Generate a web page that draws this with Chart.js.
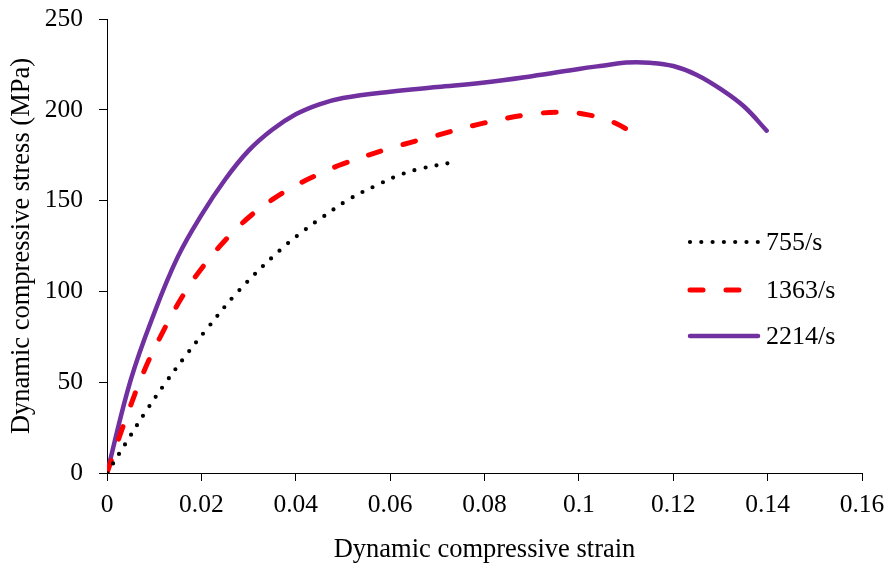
<!DOCTYPE html>
<html>
<head>
<meta charset="utf-8">
<title>Dynamic compressive stress-strain</title>
<script src="https://cdn.jsdelivr.net/npm/chart.js@4.4.1/dist/chart.umd.min.js"></script>
<style>
  html, body { margin: 0; padding: 0; background: #fff; }
  #wrap { width: 892px; height: 568px; }
</style>
</head>
<body>
<div id="wrap"><canvas id="ssChart" width="892" height="568"></canvas></div>
<script>
// 数据
const seriesNames = ['755/s', '1363/s', '2214/s'];

const strain755 = [0, 0.004, 0.008, 0.0125, 0.0167, 0.021, 0.0278, 0.0367, 0.042, 0.0458, 0.0514, 0.0576, 0.0619, 0.0663, 0.0731];
const stress755 = [0, 16.5, 33, 50, 64.7, 78.8, 100, 122.8, 134, 141.1, 150.9, 159, 164, 167.5, 171];

const strain1363 = [0, 0.004, 0.008, 0.012, 0.016, 0.02, 0.025, 0.03, 0.035, 0.04, 0.045, 0.05, 0.06, 0.07, 0.08, 0.09, 0.097, 0.102, 0.107, 0.114];
const stress1363 = [0, 30, 57, 78.5, 97.3, 112.5, 128, 140.7, 150.5, 158.3, 164.7, 170.2, 178.8, 186, 192.8, 197.6, 198.6, 197.2, 193.5, 183.4];

const strain2214 = [0, 0.005, 0.01, 0.015, 0.02, 0.025, 0.03, 0.035, 0.04, 0.045, 0.05, 0.06, 0.07, 0.08, 0.09, 0.1, 0.105, 0.11, 0.115, 0.12, 0.125, 0.13, 0.135, 0.1398];
const stress2214 = [0, 51, 88, 119, 142, 161.5, 177.5, 189, 197.5, 203, 206.5, 210, 212.5, 215, 218.5, 222.5, 224.3, 226, 225.9, 224.1, 219.2, 211.5, 201.8, 188.5];

const xTicks = [0, 0.02, 0.04, 0.06, 0.08, 0.1, 0.12, 0.14, 0.16];
const yTicks = [0, 50, 100, 150, 200, 250];

const FONT = '"Liberation Serif", "Times New Roman", serif';

function toPoints(xs, ys) {
  return xs.map(function(x, i) { return { x: x, y: ys[i] }; });
}

// 图内图例
const insideLegend = {
  id: 'insideLegend',
  afterDraw: function(chart) {
    const ctx = chart.ctx;
    const x0 = 690, x1 = 758, textX = 766;
    const rows = [242, 290, 336];
    chart.data.datasets.forEach(function(ds, i) {
      const y = rows[i];
      ctx.save();
      ctx.strokeStyle = ds.borderColor;
      ctx.lineWidth = ds.borderWidth;
      ctx.lineCap = 'round';
      ctx.setLineDash(ds.borderDash || []);
      ctx.beginPath();
      ctx.moveTo(x0, y);
      ctx.lineTo(x1, y);
      ctx.stroke();
      ctx.setLineDash([]);
      ctx.fillStyle = '#000';
      ctx.font = '26px ' + FONT;
      ctx.textBaseline = 'middle';
      ctx.textAlign = 'left';
      ctx.fillText(ds.label, textX, y + 1);
      ctx.restore();
    });
  }
};

const ctx = document.getElementById('ssChart').getContext('2d');
const ssChart = new Chart(ctx, {
  type: 'scatter',
  data: {
    datasets: [{
      label: seriesNames[0],
      data: toPoints(strain755, stress755),
      showLine: true,
      borderColor: '#000000',
      borderWidth: 4.2,
      borderDash: [0, 11.3],
      borderCapStyle: 'round',
      pointRadius: 0,
      tension: 0.4
    }, {
      label: seriesNames[1],
      data: toPoints(strain1363, stress1363),
      showLine: true,
      borderColor: '#FF0000',
      borderWidth: 5,
      borderDash: [13, 23],
      borderCapStyle: 'round',
      pointRadius: 0,
      tension: 0.4
    }, {
      label: seriesNames[2],
      data: toPoints(strain2214, stress2214),
      showLine: true,
      borderColor: '#7030A0',
      borderWidth: 4.5,
      borderCapStyle: 'round',
      pointRadius: 0,
      tension: 0.4
    }]
  },
  options: {
    responsive: false,
    animation: false,
    layout: { padding: { top: 19, right: 30, left: 0, bottom: 0 } },
    plugins: {
      legend: { display: false },
      tooltip: { enabled: false }
    },
    scales: {
      x: {
        type: 'linear',
        min: xTicks[0],
        max: xTicks[xTicks.length - 1],
        afterFit: function(scale) {
          scale.height = 95;
          scale.paddingLeft = 0;
          scale.paddingRight = 0;
        },
        afterBuildTicks: function(scale) {
          scale.ticks = xTicks.map(function(v) { return { value: v }; });
        },
        border: { display: true, color: '#000', width: 1 },
        grid: { drawOnChartArea: false, drawTicks: true, tickLength: 8, tickColor: '#000' },
        ticks: {
          color: '#000',
          padding: 9,
          maxRotation: 0,
          font: { family: FONT, size: 25.5 },
          callback: function(v) { return String(Number(v.toFixed(2))); }
        },
        title: {
          display: true,
          text: 'Dynamic compressive strain',
          color: '#000',
          font: { family: FONT, size: 26.5 },
          padding: { top: 0, bottom: 2 }
        }
      },
      y: {
        type: 'linear',
        min: yTicks[0],
        max: yTicks[yTicks.length - 1],
        afterFit: function(scale) {
          scale.width = 107;
          scale.paddingTop = 0;
          scale.paddingBottom = 0;
        },
        afterBuildTicks: function(scale) {
          scale.ticks = yTicks.map(function(v) { return { value: v }; });
        },
        border: { display: true, color: '#000', width: 1 },
        grid: { drawOnChartArea: false, drawTicks: true, tickLength: 8, tickColor: '#000' },
        ticks: {
          color: '#000',
          padding: 16,
          font: { family: FONT, size: 25.5 }
        },
        title: {
          display: true,
          text: 'Dynamic compressive stress (MPa)',
          color: '#000',
          font: { family: FONT, size: 26.5 },
          padding: { top: 6, bottom: 0 }
        }
      }
    }
  },
  plugins: [insideLegend]
});
</script>
</body>
</html>
